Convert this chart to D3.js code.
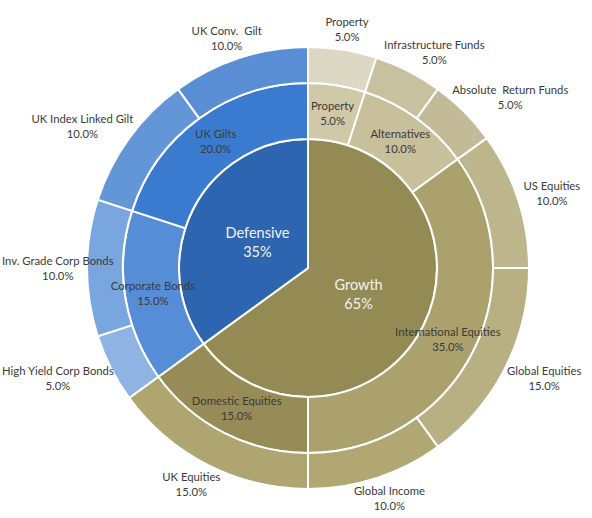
<!DOCTYPE html>
<html>
<head>
<meta charset="utf-8">
<script src="https://cdn.jsdelivr.net/npm/d3@7"></script>
<style>
  html, body { margin: 0; padding: 0; background: #fff; }
  svg { display: block; }
  text { font-family: Lato, "Open Sans", sans-serif; white-space: pre; }
</style>
</head>
<body>
<svg id="chart" width="592" height="518"></svg>
<script>
// Portfolio allocation: split into growth / defensive, then asset class, then fund.
const groups = ["Growth", "Defensive"];
const groupColors = ["#948a54", "#2e65b0"];

const assetClasses = ["Property", "Alternatives", "International Equities", "Domestic Equities", "Corporate Bonds", "UK Gilts"];
const assetClassGroup = ["Growth", "Growth", "Growth", "Growth", "Defensive", "Defensive"];
const assetClassColors = ["#d0c9a8", "#c8bf9b", "#aaa16c", "#978c57", "#558dd6", "#3a7bd0"];

const funds = ["Property", "Infrastructure Funds", "Absolute  Return Funds", "US Equities", "Global Equities", "Global Income",
               "UK Equities", "High Yield Corp Bonds", "Inv. Grade Corp Bonds", "UK Index Linked Gilt", "UK Conv.  Gilt"];
const fundClass = ["Property", "Alternatives", "Alternatives", "International Equities", "International Equities", "International Equities",
                   "Domestic Equities", "Corporate Bonds", "Corporate Bonds", "UK Gilts", "UK Gilts"];
const fundWeights = [5, 5, 5, 10, 15, 10, 15, 5, 10, 10, 10];
const fundColors = ["#dcd8c3", "#c8c1a0", "#c3bb98", "#bdb58c", "#b8af82", "#b0a773",
                    "#aea571", "#8fb4e4", "#7aa6e0", "#6396d6", "#5a8ed4"];

// Build the hierarchy from the flat lists
const root = {
  name: "root",
  children: groups.map((g, gi) => ({
    name: g, color: groupColors[gi],
    children: assetClasses.map((a, ai) => ({ a, ai })).filter(o => assetClassGroup[o.ai] === g).map(o => ({
      name: o.a, color: assetClassColors[o.ai],
      children: funds.map((f, fi) => ({ f, fi })).filter(p => fundClass[p.fi] === o.a).map(p => ({
        name: p.f, color: fundColors[p.fi], value: fundWeights[p.fi]
      }))
    }))
  }))
};

const width = 592, height = 518;
const cx = 308, cy = 268;
const ringRadii = [[0, 129], [129, 185], [185, 221]];

const hier = d3.hierarchy(root).sum(d => d.value || 0);
d3.partition().size([2 * Math.PI, 1])(hier);
const total = hier.value;

const svg = d3.select("#chart");
const g = svg.append("g").attr("transform", `translate(${cx},${cy})`);

const arc = d3.arc()
  .startAngle(d => d.x0)
  .endAngle(d => d.x1)
  .innerRadius(d => ringRadii[d.depth - 1][0])
  .outerRadius(d => ringRadii[d.depth - 1][1]);

const nodes = hier.descendants().filter(d => d.depth > 0);

g.selectAll("path.seg")
  .data(nodes)
  .join("path")
  .attr("class", "seg")
  .attr("d", arc)
  .attr("fill", d => d.data.color)
  .attr("stroke", "#ffffff")
  .attr("stroke-width", 2)
  .attr("stroke-linejoin", "miter");

const fmt1 = d3.format(".1%");
const fmt0 = d3.format(".0%");

function addLabel(d) {
  const mid = (d.x0 + d.x1) / 2;
  const ux = Math.sin(mid), uy = -Math.cos(mid);
  const depth = d.depth;
  const pie = depth === 1;
  const fontSize = pie ? 14.5 : 11.3;
  const lineGap = pie ? 19 : 15;
  const t = g.append("text")
    .attr("text-anchor", "middle")
    .attr("font-size", fontSize)
    .attr("fill", pie ? "#f2f2f2" : "#3a3a3a");
  const l1 = t.append("tspan").attr("x", 0).attr("dominant-baseline", "central").text(d.data.name);
  const l2 = t.append("tspan").attr("x", 0).attr("dominant-baseline", "central")
    .text(pie ? fmt0(d.value / total) : fmt1(d.value / total));
  let px, py;
  if (depth === 1) {
    const r = ringRadii[0][1] * 0.44;
    px = ux * r; py = uy * r;
  } else if (depth === 2) {
    const r = (ringRadii[1][0] + ringRadii[1][1]) / 2;
    px = ux * r; py = uy * r;
  } else {
    // Outside labels: the box sits beyond the ring, pushed out along the slice direction
    const w = Math.max(l1.node().getComputedTextLength(), l2.node().getComputedTextLength());
    const h = lineGap + fontSize * 1.2;
    const r = ringRadii[2][1] + 7;
    px = ux * r + ux * w / 2;
    py = uy * r + uy * h / 2;
    // keep the label inside the drawing
    const minX = -cx + 2 + w / 2, maxX = width - cx - 2 - w / 2;
    px = Math.max(minX, Math.min(maxX, px));
  }
  l1.attr("x", px).attr("y", py - lineGap / 2);
  l2.attr("x", px).attr("y", py + lineGap / 2);
}

nodes.forEach(addLabel);
</script>
</body>
</html>
